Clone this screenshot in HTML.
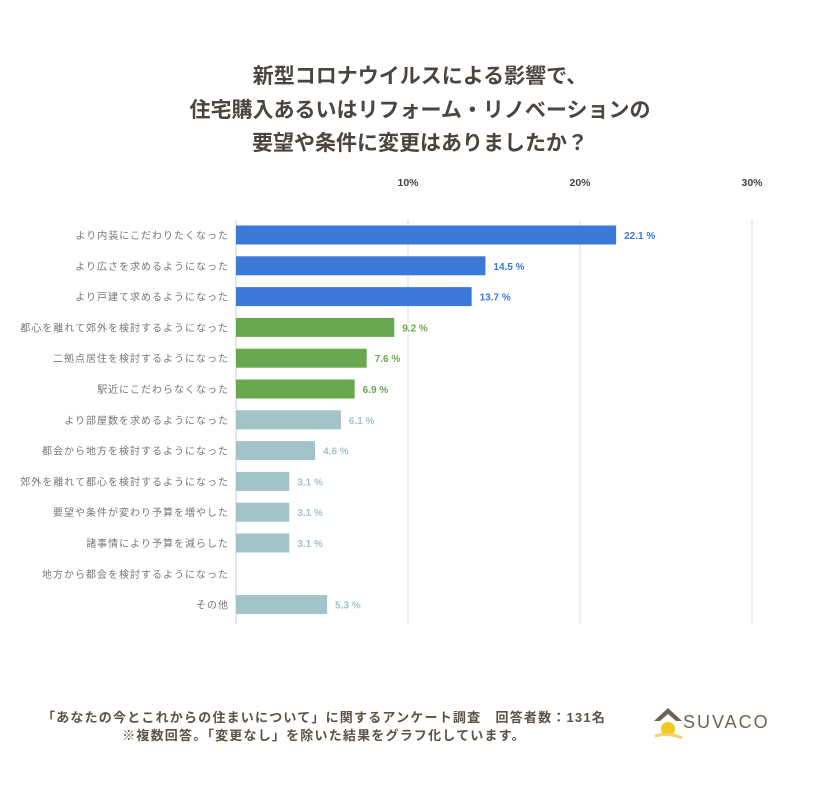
<!DOCTYPE html>
<html><head><meta charset="utf-8"><style>
body{margin:0;background:#fff;font-family:"Liberation Sans","Noto Sans CJK JP",sans-serif}
#wrap{position:relative;width:840px;height:788px;overflow:hidden}
.t{position:absolute;left:0;width:840px;text-align:center;font-size:21px;font-weight:bold;color:#4a4540}
.f{position:absolute;font-size:13px;letter-spacing:1.2px;font-weight:bold;color:#5a5248;white-space:nowrap}
</style></head><body><div id="wrap">
<div class="t" style="top:60px">新型コロナウイルスによる影響で、</div>
<div class="t" style="top:94px">住宅購入あるいはリフォーム・リノベーションの</div>
<div class="t" style="top:127px">要望や条件に変更はありましたか？</div>
<svg id="chart" width="840" height="788" style="position:absolute;left:0;top:0"></svg>
<div class="f" style="left:0px;top:707px;width:648px;text-align:center">「あなたの今とこれからの住まいについて」に関するアンケート調査　回答者数：131名</div>
<div class="f" style="left:0px;top:725px;width:648px;text-align:center">※複数回答。「変更なし」を除いた結果をグラフ化しています。</div>
<div style="position:absolute;left:650px;top:705px;width:130px;height:40px">
<svg width="40" height="40"><polygon points="4,16 18,3 32,16 26,16 18,9 10,16" fill="#6d6358"/><circle cx="18" cy="24" r="7" fill="#f2c81e"/><path d="M5,31 Q18,27 32,33" stroke="#f2d36a" stroke-width="3" fill="none"/></svg>
<span style="position:absolute;left:33px;top:7px;font-size:18px;letter-spacing:2px;color:#6d6358">SUVACO</span></div>
</div>
<script>
const categories=["より内装にこだわりたくなった","より広さを求めるようになった","より戸建て求めるようになった","都心を離れて郊外を検討するようになった","二拠点居住を検討するようになった","駅近にこだわらなくなった","より部屋数を求めるようになった","都会から地方を検討するようになった","郊外を離れて都心を検討するようになった","要望や条件が変わり予算を増やした","諸事情により予算を減らした","地方から都会を検討するようになった","その他"];
const values=[22.1,14.5,13.7,9.2,7.6,6.9,6.1,4.6,3.1,3.1,3.1,0,5.3];
const groups=["blue","blue","blue","green","green","green","teal","teal","teal","teal","teal","teal","teal"];
const ticks=[10,20,30];
const colors={blue:"#3c78d8",green:"#6aa84f",teal:"#a2c4c9"};
const svg=document.getElementById('chart');const NS="http://www.w3.org/2000/svg";
const x0=236,pxPer=17.2,y0=235,step=30.8,bh=19;
const xs=v=>x0+v*pxPer, ys=i=>y0+i*step;
function mk(t,a){const e=document.createElementNS(NS,t);for(const k in a)e.setAttribute(k,a[k]);svg.appendChild(e);return e;}
ticks.forEach(t=>{const g=mk('line',{x1:xs(t),x2:xs(t),y1:220,y2:624,stroke:'#ddd','stroke-width':1});


const l=mk('text',{x:xs(t),y:186,'text-anchor':'middle','font-size':'10.5','font-weight':'bold',fill:'#444'});l.textContent=t+'%';

});
const ax=mk('line',{x1:x0,x2:x0,y1:220,y2:624,stroke:'#ccc','stroke-width':1});


categories.forEach((c,i)=>{const y=ys(i);
const lb=mk('text',{x:229,y:y+4,'text-anchor':'end','font-size':'10',fill:'#777','letter-spacing':'1'});lb.textContent=c;


if(values[i]>0){const col=colors[groups[i]];
const r=mk('rect',{x:x0,y:y-bh/2,width:values[i]*pxPer,height:bh,fill:col});


const v=mk('text',{x:xs(values[i])+8,y:y+4,'font-size':'10','font-weight':'bold',fill:col});v.textContent=values[i].toFixed(1)+' %';

}});
</script></body></html>
